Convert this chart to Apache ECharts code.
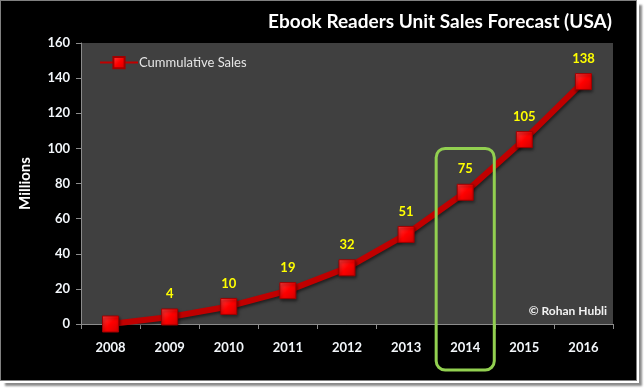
<!DOCTYPE html>
<html>
<head>
<meta charset="utf-8">
<script src="https://cdn.jsdelivr.net/npm/echarts@6/dist/echarts.min.js"></script>
<style>
html,body{margin:0;padding:0;background:#fff;width:644px;height:388px;overflow:hidden;}
#frame{position:absolute;left:0;top:0;width:635px;height:379px;background:#000;border:1px solid #808080;box-shadow:2px 2px 0 #fff,5px 5px 2px #8a8a8a;}
#chart{position:absolute;left:0;top:0;width:644px;height:388px;}
</style>
</head>
<body>
<div id="frame"></div>
<div id="chart"></div>
<script>
const years = ['2008','2009','2010','2011','2012','2013','2014','2015','2016'];
const sales = [0, 4, 10, 19, 32, 51, 75, 105, 138];
const yTicks = [0, 20, 40, 60, 80, 100, 120, 140, 160];
const highlightYear = '2014';

const FONT = 'Lato, "Open Sans", sans-serif';
const chart = echarts.init(document.getElementById('chart'), null, {renderer: 'canvas'});

function buildGraphics() {
  const cx = chart.convertToPixel({xAxisIndex: 0}, highlightYear);
  const cTop = chart.convertToPixel({yAxisIndex: 0}, 100);
  const band = chart.getModel().getComponent('xAxis', 0).axis.getBandWidth();
  return [
    {
      type: 'rect', z: 100,
      shape: {x: cx - band / 2 + 0.5, y: cTop, width: band - 1, height: 370 - cTop, r: 9},
      style: {fill: 'none', stroke: '#92d050', lineWidth: 3}
    },
    {
      type: 'text', z: 100,
      x: 607, y: 311,
      style: {text: '© Rohan Hubli', fill: '#f2f2f2', font: 'bold 12px ' + FONT, align: 'right', verticalAlign: 'middle'}
    }
  ];
}

const option = {
  backgroundColor: 'transparent',
  animation: false,
  title: {
    text: 'Ebook Readers Unit Sales Forecast (USA)',
    right: 27, top: 7,
    textStyle: {color: '#ffffff', fontFamily: FONT, fontWeight: 'bold', fontSize: 19}
  },
  legend: {
    left: 94, top: 51,
    itemWidth: 38, itemHeight: 14,
    itemGap: 4,
    textStyle: {color: '#e6e6e6', fontFamily: FONT, fontSize: 13, padding: [0, 0, 0, -4]},
    data: ['Cummulative Sales']
  },
  grid: {left: 81, top: 43, width: 532, height: 281, containLabel: false,
         show: true, backgroundColor: '#404040', borderWidth: 0},
  xAxis: {
    type: 'category',
    data: years,
    boundaryGap: true,
    axisLine: {show: true, lineStyle: {color: '#8c8c8c', width: 1}},
    axisTick: {show: true, alignWithLabel: false, interval: 0, length: 5, lineStyle: {color: '#8c8c8c'}},
    axisLabel: {color: '#f2f6fa', fontFamily: FONT, fontWeight: 'bold', fontSize: 13, margin: 17, interval: 0},
    splitLine: {show: false}
  },
  yAxis: {
    type: 'value',
    min: yTicks[0], max: yTicks[yTicks.length - 1], interval: yTicks[1] - yTicks[0],
    name: 'Millions',
    nameLocation: 'middle',
    nameGap: 48,
    nameRotate: 90,
    nameTextStyle: {color: '#ffffff', fontFamily: FONT, fontWeight: 'bold', fontSize: 15},
    axisLine: {show: true, lineStyle: {color: '#8c8c8c', width: 1}},
    axisTick: {show: true, length: 5, lineStyle: {color: '#8c8c8c'}},
    axisLabel: {color: '#f2f6fa', fontFamily: FONT, fontWeight: 'bold', fontSize: 13, margin: 11},
    splitLine: {show: false}
  },
  series: [{
    name: 'Cummulative Sales',
    type: 'line',
    data: sales,
    symbol: 'rect',
    symbolSize: 16,
    lineStyle: {color: '#c00000', width: 6, shadowColor: 'rgba(0,0,0,0.5)', shadowBlur: 3, shadowOffsetX: 1, shadowOffsetY: 2},
    itemStyle: {
      color: new echarts.graphic.LinearGradient(0, 0, 1, 1, [
        {offset: 0, color: '#ff4040'},
        {offset: 0.5, color: '#ff0000'},
        {offset: 1, color: '#d00000'}
      ]),
      borderColor: '#a00000', borderWidth: 1,
      shadowColor: 'rgba(0,0,0,0.5)', shadowBlur: 3, shadowOffsetX: 1, shadowOffsetY: 2
    },
    label: {
      show: true, position: 'top', distance: 8,
      color: '#ffff00', fontFamily: FONT, fontWeight: 'bold', fontSize: 13,
      formatter: p => p.value === 0 ? '' : String(p.value)
    },
    z: 5
  }]
};
chart.setOption(option);
chart.setOption({graphic: buildGraphics()});
</script>
</body>
</html>
